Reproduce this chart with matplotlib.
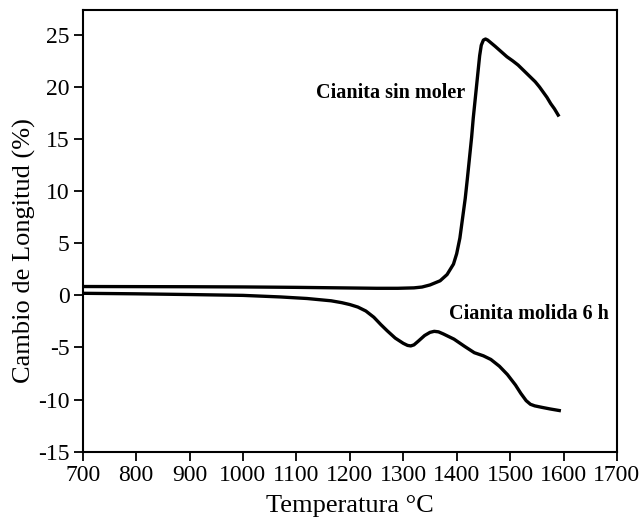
import matplotlib
matplotlib.use("Agg")
import matplotlib.pyplot as plt

plt.rcParams['font.family'] = ['Liberation Serif', 'DejaVu Serif']
plt.rcParams['axes.unicode_minus'] = False

# Cianita sin moler
temp_sin = [700, 800, 900, 1000, 1100, 1200, 1250, 1290, 1320, 1335, 1350, 1369,
            1382, 1394, 1400, 1406, 1411, 1416, 1420, 1424, 1428, 1431, 1435,
            1438, 1441, 1443, 1446, 1450, 1454, 1458, 1465, 1472, 1483, 1494,
            1505, 1515, 1523, 1531, 1539, 1547, 1555, 1562, 1569, 1576, 1583,
            1590]
dl_sin = [0.85, 0.84, 0.83, 0.81, 0.77, 0.71, 0.68, 0.68, 0.72, 0.8, 1.0, 1.4,
          2.0, 3.0, 4.0, 5.5, 7.4, 9.3, 11.2, 13.2, 15.2, 17.0, 19.0,
          20.5, 22.0, 23.0, 24.0, 24.5, 24.6, 24.5, 24.2, 23.9, 23.4, 22.9,
          22.5, 22.1, 21.7, 21.3, 20.9, 20.5, 20.0, 19.5, 19.0, 18.4, 17.9,
          17.3]

# Cianita molida 6 h
temp_mol = [700, 800, 900, 1000, 1070, 1120, 1165, 1185, 1200, 1215, 1230, 1245,
            1258, 1270, 1285, 1300, 1308, 1314, 1320, 1328, 1340, 1350, 1358,
            1366, 1375, 1395, 1415, 1433, 1450, 1464, 1480, 1495, 1510, 1520,
            1530, 1538, 1546, 1560, 1575, 1592]
dl_mol = [0.2, 0.15, 0.08, 0.0, -0.15, -0.3, -0.52, -0.7, -0.88, -1.12, -1.5, -2.1,
          -2.8, -3.4, -4.1, -4.6, -4.8, -4.85, -4.75, -4.4, -3.85, -3.55, -3.45,
          -3.5, -3.7, -4.2, -4.9, -5.5, -5.8, -6.15, -6.8, -7.6, -8.6, -9.4,
          -10.1, -10.45, -10.6, -10.75, -10.9, -11.05]

x_ticks = list(range(700, 1701, 100))
y_ticks = list(range(-15, 26, 5))

fig = plt.figure(figsize=(6.42, 5.18), dpi=100)
ax = fig.add_axes([0.1288, 0.128, 0.8322, 0.853])

ax.plot(temp_sin, dl_sin, color='black', lw=2.4, solid_joinstyle='round')
ax.plot(temp_mol, dl_mol, color='black', lw=2.4, solid_joinstyle='round')

ax.text(1277, 19.4, 'Cianita sin moler', ha='center', va='center',
        fontsize=14.5, fontweight='bold')
ax.text(1535, -1.8, 'Cianita molida 6 h', ha='center', va='center',
        fontsize=14.5, fontweight='bold')

ax.set_xlim(700, 1700)
ax.set_ylim(-15, 27.4)
ax.set_xticks(x_ticks)
ax.set_yticks(y_ticks)
ax.tick_params(axis='both', direction='out', length=6.5, width=1.3,
               labelsize=17, pad=3)
for spine in ax.spines.values():
    spine.set_linewidth(1.5)

ax.set_xlabel('Temperatura °C', fontsize=19)
ax.set_ylabel('Cambio de Longitud (%)', fontsize=19)
ax.xaxis.set_label_coords(0.5, -0.097)
ax.yaxis.set_label_coords(-0.087, 0.455)

fig.savefig('out.png', dpi=100)
